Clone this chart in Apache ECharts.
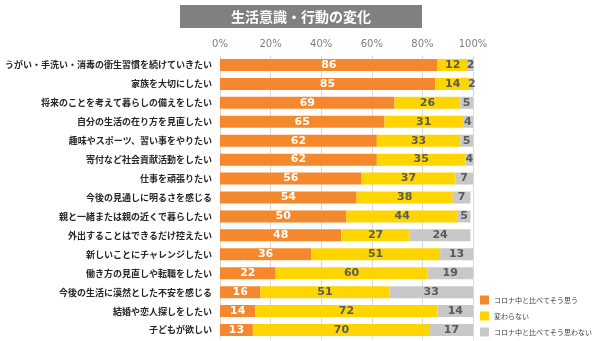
<!DOCTYPE html>
<html><head><meta charset="utf-8">
<script src="https://cdn.jsdelivr.net/npm/echarts@6/dist/echarts.min.js"></script>
<style>html,body{margin:0;padding:0;background:#fff}#c{width:600px;height:341px}</style>
</head><body><div id="c"></div>
<script>
const categories = [
  'うがい・手洗い・消毒の衛生習慣を続けていきたい',
  '家族を大切にしたい',
  '将来のことを考えて暮らしの備えをしたい',
  '自分の生活の在り方を見直したい',
  '趣味やスポーツ、習い事をやりたい',
  '寄付など社会貢献活動をしたい',
  '仕事を頑張りたい',
  '今後の見通しに明るさを感じる',
  '親と一緒または親の近くで暮らしたい',
  '外出することはできるだけ控えたい',
  '新しいことにチャレンジしたい',
  '働き方の見直しや転職をしたい',
  '今後の生活に漠然とした不安を感じる',
  '結婚や恋人探しをしたい',
  '子どもが欲しい'
];
const seriesNames = ['コロナ中と比べてそう思う', '変わらない', 'コロナ中と比べてそう思わない'];
const agree    = [86, 85, 69, 65, 62, 62, 56, 54, 50, 48, 36, 22, 16, 14, 13];
const neutral  = [12, 14, 26, 31, 33, 35, 37, 38, 44, 27, 51, 60, 51, 72, 70];
const disagree = [2, 2, 5, 4, 5, 4, 7, 7, 5, 24, 13, 19, 33, 14, 17];
const tickValues = [0, 20, 40, 60, 80, 100];
const titleText = '生活意識・行動の変化';

const colors = ['#F5882C', '#FFD500', '#C8C8C8'];
const labelColors = ['#FFFFFF', '#5A5A5A', '#5A5A5A'];
const lblFont = 'Verdana, "DejaVu Sans", sans-serif';
const cjk = '"Noto Sans CJK JP", sans-serif';

const chart = echarts.init(document.getElementById('c'), null, {renderer: 'canvas'});
const dataSets = [agree, neutral, disagree];
chart.setOption({
  animation: false,
  graphic: [
    {type: 'rect', shape: {x: 180, y: 5, width: 242, height: 23}, style: {fill: '#808080'}},
    {type: 'text', x: 301, y: 16.5, style: {text: titleText, fill: '#fff', font: 'bold 14px ' + cjk, align: 'center', verticalAlign: 'middle'}}
  ],
  legend: {
    orient: 'vertical', left: 480, top: 295.5, itemWidth: 9, itemHeight: 9, itemGap: 7,
    icon: 'rect', padding: 0,
    textStyle: {fontSize: 7, lineHeight: 9, color: '#404040', fontFamily: cjk},
    data: seriesNames
  },
  grid: {left: 220, right: 127, top: 55.5, bottom: 1.5, containLabel: false},
  xAxis: {
    type: 'value', position: 'top', min: 0, max: 100, interval: 20,
    axisLine: {show: false}, axisTick: {show: false},
    axisLabel: {formatter: v => tickValues.includes(v) ? v + '%' : '', color: '#7F7F7F', fontSize: 10, fontFamily: lblFont, margin: 6},
    splitLine: {show: true, lineStyle: {color: '#D9D9D9', width: 1}}
  },
  yAxis: {
    type: 'category', inverse: true, data: categories,
    axisLine: {show: false}, axisTick: {show: false},
    axisLabel: {color: '#262626', fontSize: 9, fontWeight: 'bold', fontFamily: cjk, margin: 8}
  },
  series: seriesNames.map((n, i) => ({
    name: n, type: 'bar', stack: 'all', barWidth: 12, clip: true,
    itemStyle: {color: colors[i]},
    label: {show: true, position: 'inside', color: labelColors[i], fontSize: 11, fontWeight: 'bold', fontFamily: lblFont},
    data: dataSets[i]
  }))
});
</script></body></html>
